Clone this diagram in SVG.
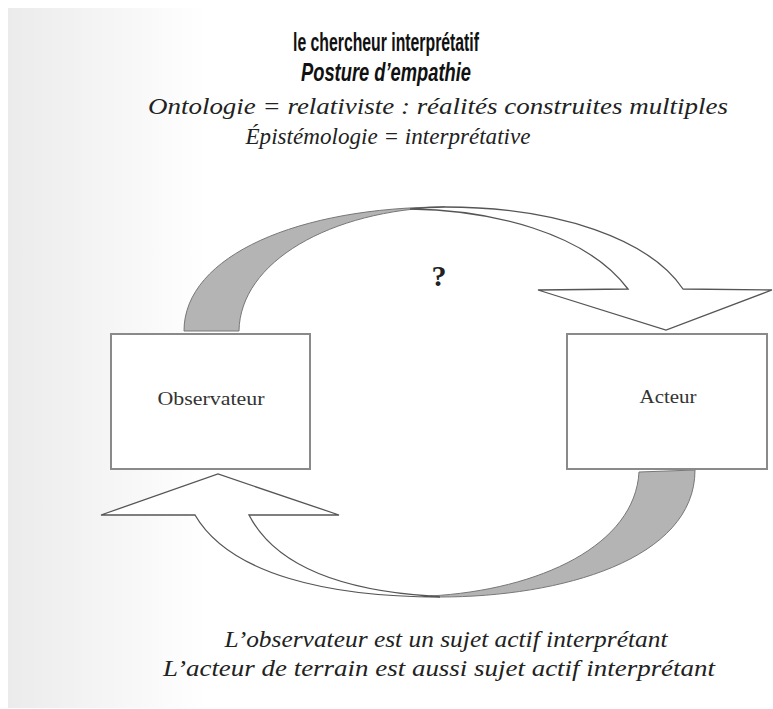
<svg xmlns="http://www.w3.org/2000/svg" width="773" height="709" viewBox="0 0 773 709">
<defs>
<linearGradient id="bg" x1="0" y1="0" x2="1" y2="0" gradientUnits="objectBoundingBox">
<stop offset="0" stop-color="#ebebeb"/>
<stop offset="0.26" stop-color="#ffffff"/>
<stop offset="1" stop-color="#ffffff"/>
</linearGradient>
</defs>
<style>
.box{fill:#ffffff;stroke:#8a8a8a;stroke-width:2}
.grey{fill:#b4b4b4;stroke:#777;stroke-width:1}
.white{fill:#ffffff;stroke:#555;stroke-width:1.3;stroke-linejoin:miter}
.title{font-family:"Liberation Sans","DejaVu Sans",sans-serif;font-weight:bold;font-size:26px;fill:#111;text-anchor:middle}
.ital{font-family:"Liberation Serif","DejaVu Serif",serif;font-style:italic;font-size:23px;fill:#222;text-anchor:middle}
.lbl{font-family:"Liberation Serif","DejaVu Serif",serif;font-size:18px;fill:#333;text-anchor:middle}
</style>
<rect x="0" y="0" width="773" height="709" fill="#ffffff"/>
<rect x="8" y="8" width="765" height="700" fill="url(#bg)"/>
<g id="header">
<text class="title" x="386" y="51" textLength="186" lengthAdjust="spacingAndGlyphs">le chercheur interprétatif</text>
<text class="title" x="386" y="81" font-style="italic" font-size="25" textLength="170" lengthAdjust="spacingAndGlyphs">Posture d’empathie</text>
<text class="ital" x="438" y="114" textLength="580" lengthAdjust="spacingAndGlyphs">Ontologie = relativiste : réalités construites multiples</text>
<text class="ital" x="388" y="144" textLength="285" lengthAdjust="spacingAndGlyphs">Épistémologie = interprétative</text>
</g>
<g id="connectors">
<g id="arrow-top">
<path class="grey" d="M184,331 C184,255 300,207 445,207 C330,210 240,262 239,331 Z"/>
<path class="white" d="M445,207 C560,207 650,240 683,289 L772,290 L666,330 L538,290 L628,289 C585,232 490,210 410,209 C420,208 432,207 445,207 Z"/>
</g>
<g id="arrow-bottom">
<path class="grey" d="M440,597 C560,597 695,560 695,470 L639,472 C635,545 540,590 430,596 Z"/>
<path class="white" d="M440,597 C330,597 230,575 195,515 L101,515 L218,474 L339,515 L249,515 C275,565 340,590 430,596 Z"/>
</g>
<text x="439" y="286" font-family="Liberation Serif, serif" font-weight="bold" font-size="30" fill="#222" text-anchor="middle">?</text>
</g>
<g id="observateur">
<rect class="box" x="111" y="334" width="199" height="135"/>
<text class="lbl" x="211" y="405" textLength="107" lengthAdjust="spacingAndGlyphs">Observateur</text>
</g>
<g id="acteur">
<rect class="box" x="567" y="334" width="200" height="135"/>
<text class="lbl" x="668" y="403" textLength="57" lengthAdjust="spacingAndGlyphs">Acteur</text>
</g>
<g id="footer">
<text class="ital" x="446" y="647" textLength="443" lengthAdjust="spacingAndGlyphs">L’observateur est un sujet actif interprétant</text>
<text class="ital" x="439" y="676" textLength="552" lengthAdjust="spacingAndGlyphs">L’acteur de terrain est aussi sujet actif interprétant</text>
</g>
</svg>
